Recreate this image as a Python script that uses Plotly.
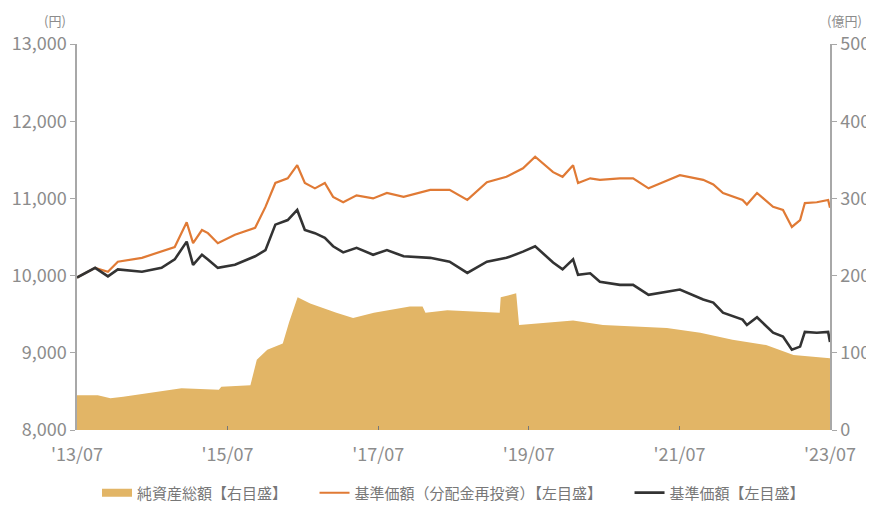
import plotly.graph_objects as go

# Line series dates (shared by the two NAV lines)
line_dates = [
    "2013-07-01", "2013-08-10", "2013-09-27", "2013-11-28", "2014-01-15", "2014-05-12",
    "2014-08-15", "2014-10-18", "2014-12-15", "2015-01-15", "2015-02-27", "2015-03-28",
    "2015-05-15", "2015-08-06", "2015-11-12", "2016-01-01", "2016-02-18", "2016-04-18",
    "2016-06-03", "2016-07-10", "2016-08-28", "2016-10-15", "2016-11-24", "2017-01-12",
    "2017-03-18", "2017-06-06", "2017-08-12", "2017-11-01", "2018-03-10", "2018-06-12",
    "2018-09-06", "2018-12-10", "2019-03-15", "2019-06-03", "2019-08-01", "2019-10-27",
    "2019-12-12", "2020-02-01", "2020-02-25", "2020-04-24", "2020-06-10", "2020-09-15",
    "2020-11-18", "2021-02-01", "2021-04-12", "2021-07-03", "2021-10-24", "2021-12-12",
    "2022-01-28", "2022-05-03", "2022-05-24", "2022-07-12", "2022-09-28", "2022-11-15",
    "2022-12-28", "2023-02-06", "2023-03-01", "2023-04-28", "2023-06-22", "2023-07-01",
]
# 基準価額（分配金再投資）
nav_reinvested = [
    9975, 10035, 10100, 10050, 10180, 10230,
    10310, 10370, 10690, 10420, 10590, 10550,
    10420, 10530, 10620, 10890, 11200, 11260,
    11430, 11200, 11130, 11200, 11020, 10950,
    11040, 11000, 11070, 11020, 11110, 11110,
    10980, 11210, 11280, 11390, 11540, 11340,
    11280, 11430, 11200, 11260, 11240, 11260,
    11260, 11130, 11210, 11300, 11240, 11180,
    11070, 10980, 10920, 11070, 10890, 10850,
    10630, 10720, 10940, 10950, 10980, 10880,
]
# 基準価額
nav = [
    9975, 10035, 10100, 9990, 10080, 10050,
    10100, 10210, 10440, 10140, 10270, 10210,
    10100, 10140, 10250, 10330, 10660, 10720,
    10850, 10590, 10550, 10490, 10380, 10300,
    10360, 10270, 10330, 10250, 10230, 10180,
    10035, 10180, 10230, 10310, 10380, 10170,
    10080, 10210, 10010, 10030, 9920, 9880,
    9880, 9750, 9780, 9820, 9690, 9650,
    9520, 9430, 9360, 9460, 9260, 9210,
    9040, 9080, 9270, 9260, 9270, 9140,
]
# 純資産総額（億円）
asset_dates = [
    "2013-07-01", "2013-10-10", "2013-12-10", "2014-02-10", "2014-11-20", "2015-05-20",
    "2015-06-01", "2015-10-20", "2015-11-20", "2016-01-10", "2016-03-25", "2016-04-25",
    "2016-06-05", "2016-08-05", "2016-12-10", "2017-03-01", "2017-06-10", "2017-12-01",
    "2018-02-01", "2018-02-15", "2018-06-01", "2019-02-10", "2019-02-15", "2019-05-01",
    "2019-05-15", "2019-12-01", "2020-02-01", "2020-06-25", "2021-05-01", "2021-10-10",
    "2022-03-15", "2022-08-25", "2023-01-05", "2023-07-01",
]
net_assets = [
    45, 45, 41, 43, 54, 52,
    56, 58, 91, 104, 112, 140,
    172, 164, 152, 145, 152, 160,
    160, 152, 155, 152, 172, 177,
    136, 140, 142, 136, 132, 126,
    117, 110, 97, 93,
]

tick_dates = ["2013-07-01", "2015-07-01", "2017-07-01", "2019-07-01", "2021-07-01", "2023-07-01"]
tick_labels = ["'13/07", "'15/07", "'17/07", "'19/07", "'21/07", "'23/07"]
left_ticks = [8000, 9000, 10000, 11000, 12000, 13000]
right_ticks = [0, 100, 200, 300, 400, 500]

name_assets = "純資産総額【右目盛】"
name_reinv = "基準価額（分配金再投資）【左目盛】"
name_nav = "基準価額【左目盛】"
PAD = "\u3000\u3000"  # spacing between legend entries

GOLD = "#e2b566"
ORANGE = "#e07a35"
DARK = "#333333"
GREY = "#8c8c8c"

fig = go.Figure()
fig.add_trace(go.Scatter(x=asset_dates, y=net_assets, yaxis="y2", mode="lines",
                         line=dict(color=GOLD, width=0), fill="tozeroy", fillcolor=GOLD,
                         showlegend=False, hoverinfo="skip"))
fig.add_trace(go.Scatter(x=line_dates, y=nav_reinvested, mode="lines",
                         line=dict(color=ORANGE, width=2.2), showlegend=False))
fig.add_trace(go.Scatter(x=line_dates, y=nav, mode="lines",
                         line=dict(color=DARK, width=2.6), showlegend=False))
# legend entries
fig.add_trace(go.Scatter(x=[None], y=[None], mode="lines", name=name_assets + PAD,
                         line=dict(color=GOLD, width=8)))
fig.add_trace(go.Scatter(x=[None], y=[None], mode="lines", name=name_reinv + PAD,
                         line=dict(color=ORANGE, width=2)))
fig.add_trace(go.Scatter(x=[None], y=[None], mode="lines", name=name_nav,
                         line=dict(color=DARK, width=2.6)))

font_family = "Noto Sans CJK JP, Noto Sans, sans-serif"
fig.update_layout(
    width=866, height=499,
    margin=dict(l=69, r=44, t=36, b=77, autoexpand=False),
    paper_bgcolor="white", plot_bgcolor="white",
    font=dict(family=font_family, color=GREY, size=16),
    xaxis=dict(type="date", range=["2013-07-01", "2023-07-01"], tickvals=tick_dates,
               ticktext=tick_labels, showgrid=False, showline=False,
               ticks="inside", ticklen=4, tickcolor="#777", zeroline=False,
               ticklabelstandoff=12, tickfont=dict(size=18, color=GREY)),
    yaxis=dict(range=[8000, 13000], tickvals=left_ticks, tickformat=",d", showgrid=False,
               showline=True, linecolor="#a8a8a8", linewidth=1.5, ticks="outside", ticklen=5,
               tickcolor="#a8a8a8", zeroline=False, tickfont=dict(size=18, color=GREY)),
    yaxis2=dict(range=[0, 500], tickvals=right_ticks, overlaying="y", side="right",
                showgrid=False, showline=True, linecolor="#a8a8a8", linewidth=1.5,
                ticks="outside", ticklen=5, tickcolor="#a8a8a8", zeroline=False,
                tickfont=dict(size=18, color=GREY)),
    legend=dict(orientation="h", x=0.5, xanchor="center", y=-0.163, yanchor="middle",
                font=dict(size=15, color="#777777")),
    showlegend=True,
)
fig.add_annotation(text="(円)", xref="paper", yref="paper", x=-0.012, y=1.0, yshift=24,
                   xanchor="right", yanchor="middle", showarrow=False,
                   font=dict(size=13, color=GREY))
fig.add_annotation(text="(億円)", xref="paper", yref="paper", x=0.9934, y=1.0, yshift=24,
                   xanchor="left", yanchor="middle", showarrow=False,
                   font=dict(size=13, color=GREY))

fig.write_html("out.html")
